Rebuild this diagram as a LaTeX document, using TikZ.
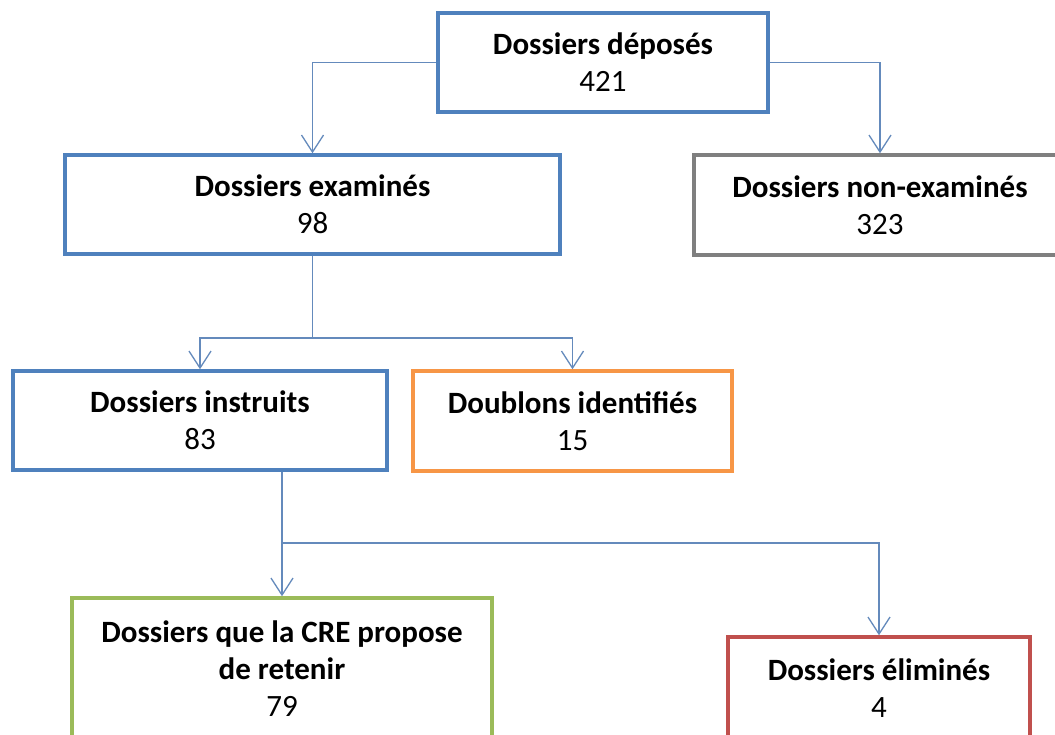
\documentclass[tikz,border=0pt]{standalone}
\usepackage{fontspec}
\setmainfont{Carlito}
\usetikzlibrary{arrows.meta}
\definecolor{bxblue}{RGB}{79,129,189}
\definecolor{bxgray}{RGB}{127,127,127}
\definecolor{bxorange}{RGB}{247,150,70}
\definecolor{bxgreen}{RGB}{155,187,89}
\definecolor{bxred}{RGB}{192,80,77}
\definecolor{conn}{RGB}{100,138,188}
\tikzset{
  box/.style={rectangle, draw, line width=3.5pt, fill=white, inner sep=0pt,
    align=center, font=\fontsize{31}{37}\selectfont, text=black},
  link/.style={draw=conn, line width=1.3pt},
  arr/.style={link, -{Straight Barb[length=17pt,width=22pt,line width=1.3pt]}}
}
\begin{document}
\begin{tikzpicture}[x=1pt,y=-1pt]
\fill[white] (0,0) rectangle (1055,734);
\useasboundingbox (0,0) rectangle (1055,734);

\node[box, draw=bxblue, minimum width=330pt, minimum height=99pt] (b1) at (603,62.5)
  {\textbf{Dossiers déposés}\\421};
\node[box, draw=bxblue, minimum width=495pt, minimum height=99pt] (b2) at (312.5,204.5)
  {\textbf{Dossiers examinés}\\98};
\node[box, draw=bxgray, minimum width=372pt, minimum height=100pt] (b3) at (880,205)
  {\textbf{Dossiers non-examinés}\\323};
\node[box, draw=bxblue, minimum width=374pt, minimum height=99pt] (b4) at (200,420.5)
  {\textbf{Dossiers instruits}\\83};
\node[box, draw=bxorange, minimum width=319pt, minimum height=100pt] (b5) at (572.5,421)
  {\textbf{Doublons identifiés}\\15};
\node[box, draw=bxgreen, minimum width=420pt, minimum height=142pt] (b6) at (282,669)
  {\textbf{Dossiers que la CRE propose}\\\textbf{de retenir}\\79};
\node[box, draw=bxred, minimum width=302pt, minimum height=103pt] (b7) at (879,688.5)
  {\textbf{Dossiers éliminés}\\4};

\coordinate (j1) at (312.5,338);
\coordinate (j2) at (282,543);

\draw[arr] (b1.west) -| (b2.north);
\draw[arr] (b1.east) -| (b3.north);

\draw[link] (b2.south) -- (j1);
\draw[arr] (j1) -| (b4.north);
\draw[arr] (j1) -| (b5.north);

\draw[link] (b4.south -| j2) -- (j2);
\draw[arr] (j2) -- (b6.north);
\draw[arr] (j2) -| (b7.north);
\end{tikzpicture}
\end{document}
